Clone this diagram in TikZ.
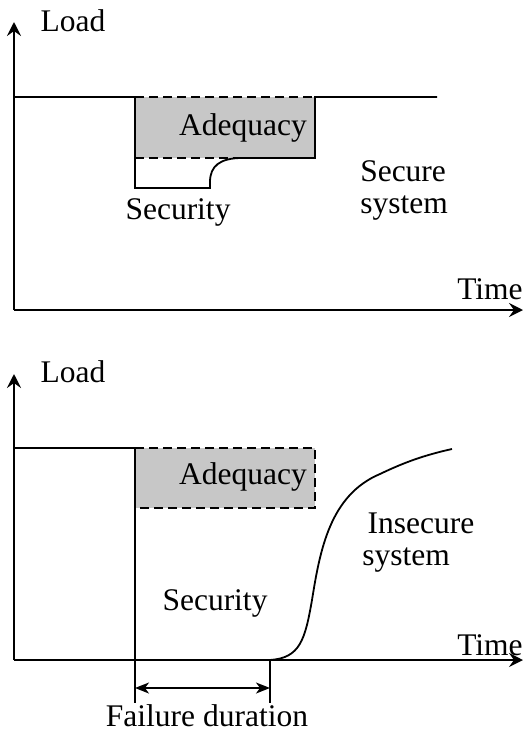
\documentclass[tikz,border=0pt]{standalone}
\usepackage{fontspec}
\setmainfont{Liberation Serif}
\usetikzlibrary{arrows.meta}
\begin{document}
\begin{tikzpicture}[x=1pt,y=-1pt,
  line width=1.8pt,
  lbl/.style={font=\fontsize{31.5}{36}\selectfont, inner sep=0pt, align=center},
  axis/.style={-{Stealth[length=14pt,width=14pt,inset=5pt]}},
  dimarrow/.style={{Stealth[length=14pt,width=11pt,inset=4pt]}-{Stealth[length=14pt,width=11pt,inset=4pt]}, line width=1.5pt},
  adq/.style={fill=black!22, draw=none},
  dashline/.style={dash pattern=on 9pt off 5pt}
]
\useasboundingbox (0,0) rectangle (525,731);

% ---------- upper chart: secure system ----------
\coordinate (o1) at (14,310);
\coordinate (ytop1) at (14,22);
\coordinate (xend1) at (523,310);
\fill[adq] (135,97) rectangle (315,158);
\draw[axis] (o1) -- (ytop1);
\draw[axis] (o1) -- (xend1);
% load level with the dip during the outage
\draw (14,97) -- (135,97) -- (135,188) -- (210,188) -- (210,182)
      .. controls (210,166) and (220,158) .. (242,158) -- (315,158) -- (315,97) -- (437,97);
\draw[dashline] (135,97) -- (315,97);
\draw[dashline] (135,158) -- (240,158);

\node[lbl] (load1) at (73,21) {Load};
\node[lbl] (time1) at (490,289) {Time};
\node[lbl] (adq1) at (243,128) {Adequacy};
\node[lbl] (sec1) at (178,212) {Security};
\node[lbl, align=left] (secure) at (404,190) {Secure\\[-4pt]system};

% ---------- lower chart: insecure system ----------
\coordinate (o2) at (14,660);
\coordinate (ytop2) at (14,374);
\coordinate (xend2) at (523,660);
\fill[adq] (135,448) rectangle (315,508);
\draw[axis] (o2) -- (ytop2);
\draw[axis] (o2) -- (xend2);
\draw (14,448) -- (135,448) -- (135,703);
\draw[dashline] (135,448) -- (315,448) -- (315,508) -- (135,508);
% slow restoration of the load
\draw (270,660) .. controls (300,658) and (305,640) .. (312,600)
      .. controls (320,550) and (330,495) .. (380,474)
      .. controls (405,462) and (425,455) .. (452,449);
\draw (270,660) -- (270,703);
\coordinate (fa) at (135,688);
\coordinate (fb) at (270,688);
\draw[dimarrow] (fa) -- (fb);

\node[lbl] (load2) at (73,372) {Load};
\node[lbl] (time2) at (490,645) {Time};
\node[lbl] (adq2) at (243,477) {Adequacy};
\node[lbl] (sec2) at (215,603) {Security};
\node[lbl] (insec) at (421,523) {Insecure};
\node[lbl] (sys2) at (406,560) {system};
\node[lbl] (fail) at (207,716) {Failure duration};
\end{tikzpicture}
\end{document}
